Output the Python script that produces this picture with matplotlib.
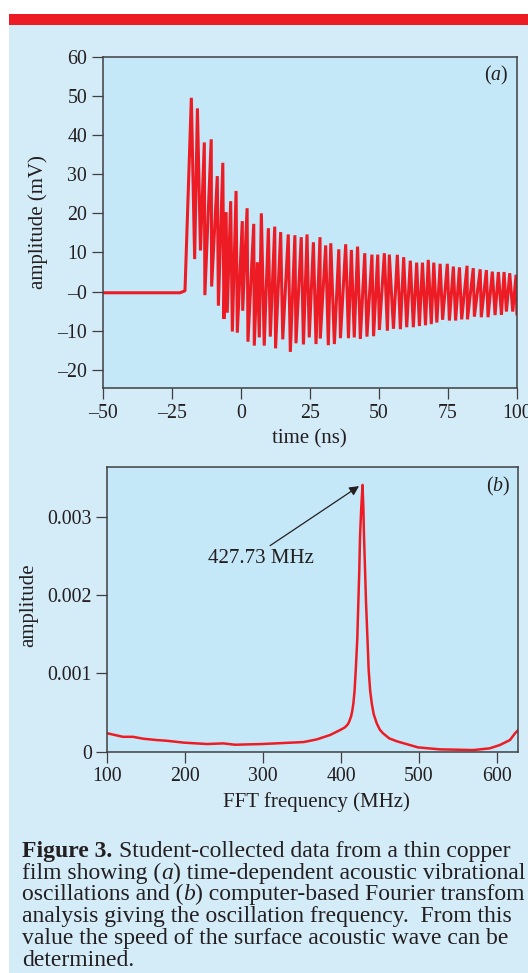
import matplotlib
matplotlib.use("Agg")
import matplotlib.pyplot as plt
from matplotlib.patches import Rectangle

plt.rcParams['font.family'] = ['Liberation Serif', 'DejaVu Serif']
plt.rcParams['mathtext.fontset'] = 'custom'
plt.rcParams['mathtext.rm'] = 'Liberation Serif'
plt.rcParams['mathtext.it'] = 'Liberation Serif:italic'
plt.rcParams['mathtext.bf'] = 'Liberation Serif:bold'

RED = '#ED1C24'
INK = '#231F20'
SPINE = '#3F3F41'
BG_OUT = '#D4EBF8'
BG_IN = '#C5E8F8'

# ---- (a) waveform: vertices ----
t_ns = [-50.0, -22.0, -20.2, -17.9, -16.7, -15.7, -14.6, -13.2, -13.0, -10.7,
        -10.55, -8.5, -8.1, -6.5, -6.1, -5.3, -4.9, -3.65, -3.05, -1.7,
        -1.25, 0.55, 0.7, 2.3, 2.6, 4.7, 4.9, 6.0, 6.7, 7.45,
        8.5, 10.0, 10.7, 12.3, 12.6, 14.45, 15.2, 17.2, 17.95, 19.6,
        20.0, 21.9, 22.7, 24.0, 24.8, 26.3, 27.25, 28.7, 28.8, 30.75,
        31.7, 32.6, 33.9, 35.5, 36.1, 38.0, 39.0, 40.05, 41.1, 42.3,
        43.3, 44.9, 45.7, 47.5, 48.1, 49.6, 50.2, 52.0, 53.1, 53.8,
        55.3, 56.7, 57.8, 59.0, 60.1, 61.4, 62.5, 63.7, 64.7, 65.8,
        66.9, 67.9, 69.0, 69.9, 71.0, 72.2, 73.1, 74.8, 75.55, 77.0,
        77.8, 79.2, 80.0, 81.95, 82.1, 84.2, 84.6, 86.7, 87.1, 88.95,
        89.55, 91.1, 92.1, 93.3, 94.4, 95.35, 96.2, 97.4, 98.5, 99.7,
        100.0]
amp_mv = [-0.3, -0.3, 0.2, 49.5, 8.3, 46.8, 10.5, 38.1, -0.9, 38.9,
          1.3, 29.5, -3.6, 32.9, -7.0, 20.3, -5.4, 23.1, -10.2, 25.7,
          -10.5, 18.0, -4.9, 21.3, -12.8, 17.3, -13.8, 7.5, -11.7, 20.0,
          -13.8, 16.2, -11.5, 16.6, -14.5, 15.2, -12.2, 14.6, -15.4, 14.4,
          -13.2, 13.9, -13.5, 14.6, -11.7, 12.6, -13.4, 13.9, -12.0, 11.8,
          -13.7, 12.35, -13.4, 10.8, -11.9, 12.1, -11.9, 10.65, -11.7, 11.5,
          -12.1, 9.8, -11.5, 9.45, -11.4, 9.45, -9.8, 9.8, -10.0, 9.45,
          -9.5, 9.4, -9.6, 8.8, -9.1, 7.9, -9.1, 7.4, -8.8, 7.4,
          -8.6, 8.1, -8.3, 7.4, -7.9, 7.1, -7.2, 7.1, -7.4, 6.4,
          -7.4, 6.2, -7.1, 6.6, -7.1, 6.0, -6.4, 5.7, -6.55, 5.5,
          -6.55, 5.1, -6.0, 5.0, -5.95, 5.0, -5.1, 4.7, -5.1, 4.3,
          -5.7]
a_xticks = [-50, -25, 0, 25, 50, 75, 100]
a_xlabels = ['\u201350', '\u201325', '0', '25', '50', '75', '100']
a_yticks = [-20, -10, 0, 10, 20, 30, 40, 50, 60]
a_ylabels = ['\u201320', '\u201310', '\u20130', '10', '20', '30', '40', '50', '60']

# ---- (b) FFT spectrum ----
freq_mhz = [100, 120, 133, 146, 163, 176, 199, 228, 249, 264,
            299, 335, 352, 369, 386, 399, 405, 408, 410, 413,
            414.5, 416, 417.5, 419, 421, 422.3, 423.5, 424.5, 426, 427.7,
            428.8, 429.6, 431, 432.2, 434, 435.6, 437.5, 439.5, 442, 446,
            450, 454, 462, 472, 499, 527, 570, 591, 604, 617,
            623.5, 628]
fft_amp = [0.000235, 0.00019, 0.00019, 0.000166, 0.000149, 0.00014, 0.000115, 0.000098, 0.000106, 0.000089,
           0.000098, 0.000115, 0.000123, 0.000157, 0.000213, 0.000277, 0.00031, 0.00034, 0.00037, 0.00045,
           0.00052, 0.00062, 0.00078, 0.00104, 0.00145, 0.0019, 0.0023, 0.00275, 0.0031, 0.003405,
           0.0031, 0.00275, 0.0023, 0.0019, 0.00145, 0.00104, 0.00078, 0.00062, 0.00048, 0.00036,
           0.00028, 0.000235, 0.00017, 0.000132, 0.000055, 0.00003, 0.000021, 0.000043, 0.000085, 0.000149,
           0.000235, 0.00028]
b_xticks = [100, 200, 300, 400, 500, 600]
b_yticks = [0, 0.001, 0.002, 0.003]
b_ylabels = ['0', '0.001', '0.002', '0.003']
peak_label = '427.73 MHz'

# caption: each line is a list of (text, style) pieces, ' ' = word gap
caption = [
    [('Figure 3.', 'bold'), (' ', ''), ('Student-collected data from a thin copper', 'normal')],
    [('film showing (', 'normal'), ('a', 'italic'), (') time-dependent acoustic vibrational', 'normal')],
    [('oscillations and (', 'normal'), ('b', 'italic'), (') computer-based Fourier transfom', 'normal')],
    [('analysis giving the oscillation frequency.  From this', 'normal')],
    [('value the speed of the surface acoustic wave can be', 'normal')],
    [('determined.', 'normal')],
]

W, H = 528, 973
fig = plt.figure(figsize=(W / 100, H / 100), dpi=100)
fig.patch.set_facecolor('white')
renderer = fig.canvas.get_renderer()

def fx(px): return px / W
def fy(py): return 1 - py / H

# light blue page with the red rule on top
fig.add_artist(Rectangle((fx(9), 0), 1 - fx(9), fy(25.3), transform=fig.transFigure,
                         facecolor=BG_OUT, edgecolor='none', zorder=0))
fig.add_artist(Rectangle((fx(9), fy(25.3)), 1 - fx(9), (25.3 - 14.5) / H, transform=fig.transFigure,
                         facecolor=RED, edgecolor='none', zorder=0))

TICK_FS = 14.3
LAB_FS = 15
CAP_FS = 17

def style(ax):
    ax.set_facecolor(BG_IN)
    for s in ax.spines.values():
        s.set_color(SPINE); s.set_linewidth(1.1)
    ax.tick_params(direction='out', length=7.7, width=0.9, color=SPINE, labelsize=TICK_FS,
                   labelcolor=INK, pad=3.5, top=False, right=False)

# panel a
ax1 = fig.add_axes([fx(102.7), fy(388.3), (516.9 - 102.7) / W, (388.3 - 56.7) / H])
style(ax1)
ax1.plot(t_ns, amp_mv, color=RED, lw=2.2, solid_joinstyle='bevel')
ax1.set_xlim(-50, 100)
ax1.set_ylim(-24.7, 60)
ax1.set_xticks(a_xticks, a_xlabels)
ax1.set_yticks(a_yticks, a_ylabels)
ax1.text(0.95, 0.943, r'($\mathit{a}$)', transform=ax1.transAxes, fontsize=TICK_FS,
         color=INK, ha='center', va='center')
fig.text(fx(38.5), fy(222), 'amplitude (mV)', rotation=90, ha='center', va='center',
         fontsize=LAB_FS, color=INK)
fig.text(fx(309), fy(439), 'time (ns)', ha='center', va='center', fontsize=LAB_FS, color=INK)

# panel b
ax2 = fig.add_axes([fx(107.3), fy(751.7), (518.3 - 107.3) / W, (751.7 - 467.3) / H])
style(ax2)
ax2.plot(freq_mhz, fft_amp, color=RED, lw=1.8)
ax2.set_xlim(100, 627.7)
ax2.set_ylim(0, 0.00363)
ax2.set_xticks(b_xticks)
ax2.set_yticks(b_yticks, b_ylabels)
ax2.annotate('', xy=(423.2, 0.00339), xytext=(309, 0.00263),
             arrowprops=dict(arrowstyle='-|>', color=INK, lw=0.9, mutation_scale=14,
                             shrinkA=0, shrinkB=0))
ax2.text(297.4, 0.00247, peak_label, ha='center', va='center', fontsize=LAB_FS, color=INK)
ax2.text(0.952, 0.932, r'($\mathit{b}$)', transform=ax2.transAxes, fontsize=TICK_FS,
         color=INK, ha='center', va='center')
fig.text(fx(29), fy(605), 'amplitude', rotation=90, ha='center', va='center',
         fontsize=LAB_FS, color=INK)
fig.text(fx(316), fy(802), 'FFT frequency (MHz)', ha='center', va='center',
         fontsize=LAB_FS, color=INK)

# caption, laid out piece by piece so bold/italic words stay plain text
def text_w(s, **kw):
    t = fig.text(0, 0, s, fontsize=CAP_FS, **kw)
    w = t.get_window_extent(renderer).width
    t.remove()
    return w

gap = text_w('n n') - text_w('nn')
base = 856.8
for i, pieces in enumerate(caption):
    xpix = 22.0
    for txt, st in pieces:
        if txt == ' ':
            xpix += gap * 1.15
            continue
        kw = {}
        if st == 'bold':
            kw['fontweight'] = 'bold'
        elif st == 'italic':
            kw['fontstyle'] = 'italic'
        t = fig.text(fx(xpix), fy(base + i * 21.8), txt, ha='left', va='baseline',
                     fontsize=CAP_FS, color=INK, **kw)
        xpix += t.get_window_extent(renderer).width

fig.savefig('out.png', dpi=100, facecolor=fig.get_facecolor())
